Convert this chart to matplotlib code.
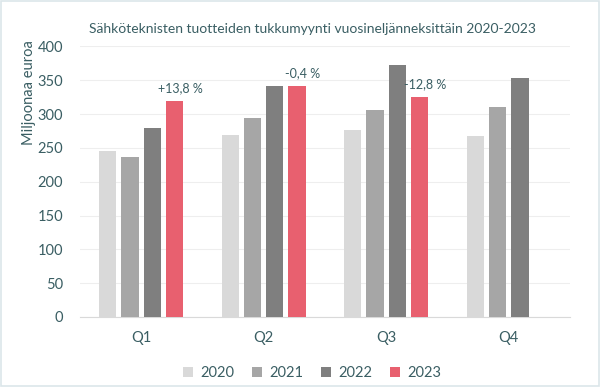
import numpy as np
import matplotlib.pyplot as plt

plt.rcParams["font.family"] = ["Lato", "DejaVu Sans"]

# Arvot (milj. euroa), luettu kuvasta
quarters = ["Q1", "Q2", "Q3", "Q4"]
years = ["2020", "2021", "2022", "2023"]
v2020 = [245, 269, 276, 267]
v2021 = [236, 294, 306, 310]
v2022 = [280, 342, 373, 354]
v2023 = [319, 341, 325, np.nan]
labels2023 = ["+13,8 %", "-0,4 %", "-12,8 %", ""]

colors = ["#D9D9D9", "#A6A6A6", "#7F7F7F", "#E8606F"]
text_color = "#3A5E63"

fig = plt.figure(figsize=(6, 3.87), dpi=100)
ax = fig.add_axes([0.133, 0.181, 0.817, 0.699])

x = np.arange(len(quarters))
step = 0.182
width = 0.141
series = [v2020, v2021, v2022, v2023]
for i, (vals, year) in enumerate(zip(series, years)):
    pos = x + (i - 1.5) * step
    ax.bar(pos, vals, width, color=colors[i], label=year, zorder=3)

# Muutosprosentit 2023-pylväiden päälle
for xi, val, txt in zip(x, v2023, labels2023):
    if txt:
        ax.annotate(txt, (xi + 1.5 * step, val), xytext=(4, 5),
                    textcoords="offset points", ha="center", va="bottom",
                    fontsize=9, color=text_color)

ax.set_xlim(-0.5, 3.5)
ax.set_ylim(0, 400)
ax.set_yticks(range(0, 401, 50))
ax.set_xticks(x)
ax.set_xticklabels(quarters)
ax.grid(axis="y", color="#EEEEEE", linewidth=0.8, zorder=0)
for s in ["top", "right", "left"]:
    ax.spines[s].set_visible(False)
ax.spines["bottom"].set_color("#D9D9D9")
ax.tick_params(axis="both", length=0, colors=text_color, labelsize=10.5)
ax.tick_params(axis="x", pad=10)
ax.tick_params(axis="y", pad=12)

ax.set_ylabel("Miljoonaa euroa", color=text_color, fontsize=10.5)
ax.yaxis.set_label_coords(-0.09, 0.83)

fig.text(0.52, 0.925, "Sähköteknisten tuotteiden tukkumyynti vuosineljänneksittäin 2020-2023",
         ha="center", va="center", fontsize=10, color=text_color)

fig.legend(loc="center", bbox_to_anchor=(0.52, 0.035), ncol=4, frameon=False,
           fontsize=10.5, labelcolor=text_color, handlelength=0.7, handleheight=0.7,
           columnspacing=1.2, handletextpad=0.5)

fig.patches.append(plt.Rectangle((0.002, 0.003), 0.996, 0.994, transform=fig.transFigure,
                                 fill=False, edgecolor="#DCE6EA", linewidth=1.2))

fig.savefig("out.png", dpi=100)
